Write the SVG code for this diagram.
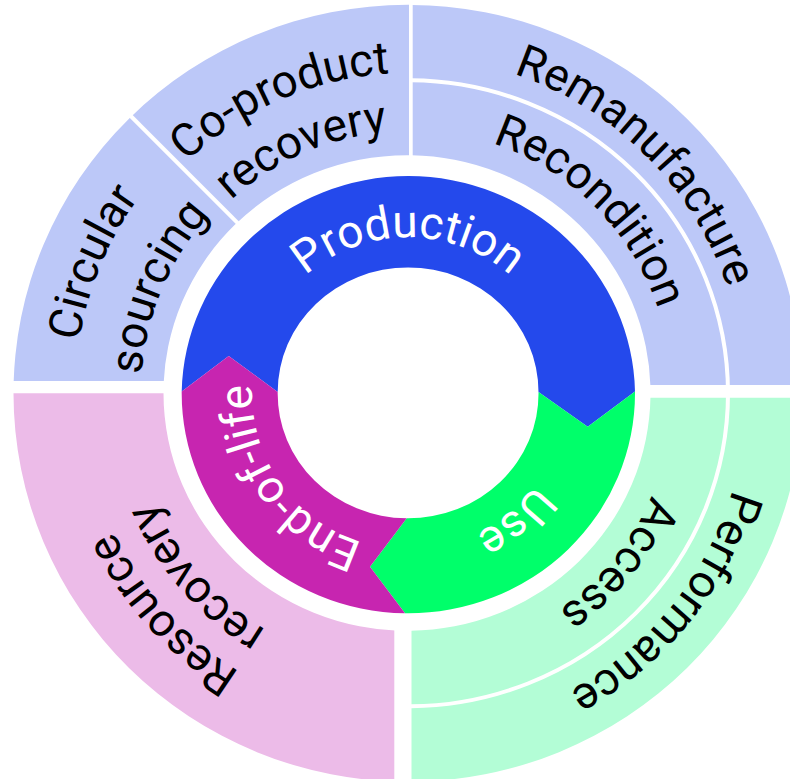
<svg xmlns="http://www.w3.org/2000/svg" width="790" height="779" viewBox="0 0 790 779">
<style>
.lbl{font-family:Roboto,"Liberation Sans",sans-serif;font-size:46px;fill:#000}
.in{font-family:Roboto,"Liberation Sans",sans-serif;font-size:46px;fill:#fff}
.sep{fill:none;stroke:#fff;stroke-width:4}
</style>
<defs>
<path id="ann" fill-rule="evenodd" d="M13.5,393.3 a394.5,388.3 0 1 0 789,0 a394.5,388.3 0 1 0 -789,0 Z M163.5,393 a243.5,237.8 0 1 0 487,0 a243.5,237.8 0 1 0 -487,0 Z"/>
<clipPath id="cTL"><rect x="0" y="0" width="409" height="381"/></clipPath>
<clipPath id="cTR"><rect x="412.7" y="0" width="400" height="385"/></clipPath>
<clipPath id="cBR"><rect x="411.5" y="397.7" width="400" height="400"/></clipPath>
<clipPath id="cBL"><rect x="0" y="393.3" width="394.3" height="400"/></clipPath>
<path id="tProd" d="M252,393.3 A156,156 0 0 1 564,393.3"/>
<path id="tUse" d="M527.5,293 A156,156 0 0 1 288.5,493.6"/>
<path id="tEol" d="M497.5,521.1 A156,156 0 0 1 318.5,265.5"/>
<path id="tReman" d="M167.6,152.9 A340,340 0 0 1 648.4,633.7"/>
<path id="tRecon" d="M221.3,206.6 A264,264 0 0 1 594.7,580"/>
<path id="tPerf" d="M622,129.1 A340,340 0 0 1 194,657.5"/>
<path id="tAcc" d="M574.1,188.1 A264,264 0 0 1 241.9,598.5"/>
<path id="tCo" d="M110.9,522.5 A324,324 0 0 1 705.1,264.1"/>
<path id="tRec1" d="M167.7,497.8 A262,262 0 0 1 648.3,288.8"/>
<path id="tCirc" d="M279.4,703.7 A336,336 0 0 1 536.6,82.9"/>
<path id="tSrc" d="M303.3,640 A268,268 0 0 1 512.7,146.6"/>
<path id="tRes" d="M628.8,638.5 A330,330 0 0 1 187.2,148.1"/>
<path id="tRec2" d="M589.1,601.6 A276,276 0 0 1 226.9,185"/>
</defs>
<rect width="790" height="779" fill="#fff"/>

<g id="outer-top-left">
<use href="#ann" fill="#BCC8F8" clip-path="url(#cTL)"/>
</g>
<g id="outer-top-right">
<use href="#ann" fill="#BCC8F8" clip-path="url(#cTR)"/>
</g>
<g id="outer-bottom-right">
<use href="#ann" fill="#B3FDD6" clip-path="url(#cBR)"/>
</g>
<g id="outer-bottom-left">
<use href="#ann" fill="#ECBBE8" clip-path="url(#cBL)"/>
</g>

<g id="separators">
<line class="sep" x1="125.2" y1="110.5" x2="241.8" y2="227.1"/>
<path class="sep" d="M411,80.3 A320,313 0 0 1 728,393.3 A320,313 0 0 1 411,706.3"/>
</g>

<g id="production">
<path fill="#2449EC" d="M181.7,391.5 A226.7,220 0 0 1 635,391.5 L587.7,426.7 L538.5,392 A130.3,124.5 0 0 0 277.7,392 L228.7,356 Z"/>
<text class="in"><textPath href="#tProd" startOffset="50%" text-anchor="middle">Production</textPath></text>
</g>
<g id="use">
<path fill="#00FF6A" d="M635,391.5 L587.7,426.7 L538.5,392 A130.3,124.5 0 0 1 406.7,518.3 L370,566.7 L405,613.3 A226.7,220 0 0 0 635,391.5 Z"/>
<text class="in"><textPath href="#tUse" startOffset="50%" text-anchor="middle">Use</textPath></text>
</g>
<g id="end-of-life">
<path fill="#C725B0" d="M405,613.3 L370,566.7 L406.7,518.3 A130.3,124.5 0 0 1 277.7,392 L228.7,356 L181.7,391.5 A226.7,220 0 0 0 405,613.3 Z"/>
<text class="in"><textPath href="#tEol" startOffset="50%" text-anchor="middle">End-of-life</textPath></text>
</g>

<g id="remanufacture"><text class="lbl"><textPath href="#tReman" startOffset="50%" text-anchor="middle">Remanufacture</textPath></text></g>
<g id="recondition"><text class="lbl"><textPath href="#tRecon" startOffset="50%" text-anchor="middle">Recondition</textPath></text></g>
<g id="performance"><text class="lbl"><textPath href="#tPerf" startOffset="50%" text-anchor="middle">Performance</textPath></text></g>
<g id="access"><text class="lbl"><textPath href="#tAcc" startOffset="50%" text-anchor="middle">Access</textPath></text></g>
<g id="co-product-recovery">
<text class="lbl"><textPath href="#tCo" startOffset="50%" text-anchor="middle">Co-product</textPath></text>
<text class="lbl"><textPath href="#tRec1" startOffset="50%" text-anchor="middle">recovery</textPath></text>
</g>
<g id="circular-sourcing">
<text class="lbl"><textPath href="#tCirc" startOffset="50%" text-anchor="middle">Circular</textPath></text>
<text class="lbl"><textPath href="#tSrc" startOffset="50%" text-anchor="middle">sourcing</textPath></text>
</g>
<g id="resource-recovery">
<text class="lbl"><textPath href="#tRes" startOffset="50%" text-anchor="middle">Resource</textPath></text>
<text class="lbl"><textPath href="#tRec2" startOffset="50%" text-anchor="middle">recovery</textPath></text>
</g>
</svg>
